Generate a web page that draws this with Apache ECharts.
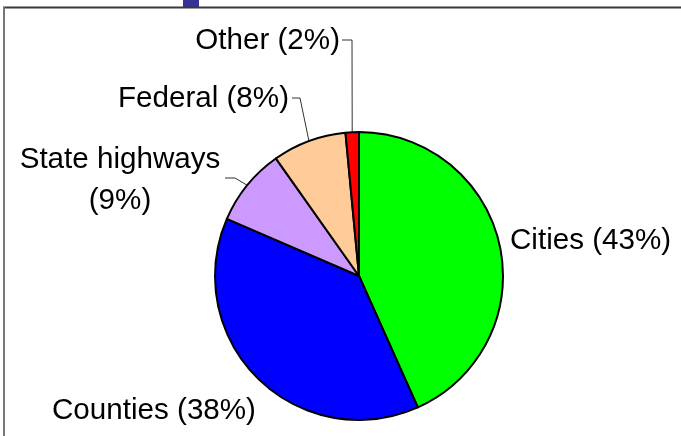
<!DOCTYPE html>
<html>
<head>
<meta charset="utf-8">
<script src="https://cdn.jsdelivr.net/npm/echarts@6/dist/echarts.min.js"></script>
<style>
html,body{margin:0;padding:0;background:#fff;}
#chart{width:681px;height:436px;}
</style>
</head>
<body>
<div id="chart"></div>
<script>
// Data
const categories = ['Cities', 'Counties', 'State highways', 'Federal', 'Other'];
const values = [43.3, 38.2, 8.7, 8.3, 1.5];
const pctLabels = ['43%', '38%', '9%', '8%', '2%'];
const labelTexts = ['Cities (43%)', 'Counties (38%)', 'State highways\n(9%)', 'Federal (8%)', 'Other (2%)'];

// Styles / layout
const colors = ['#00FF00', '#0000FF', '#CC99FF', '#FFCC99', '#FF0000'];
const labelLayouts = [
  { x: 510, y: 241, align: 'left', line: null },
  { x: 52, y: 411, align: 'left', line: null },
  { x: 120, y: 180, align: 'center', line: { end: [225, 178], elbow: [235, 178] } },
  { x: 289, y: 99, align: 'right', line: { end: [292, 98], elbow: [300, 98] } },
  { x: 340, y: 41, align: 'right', line: { end: [342, 40], elbow: [352, 40] } }
];

const chart = echarts.init(document.getElementById('chart'), null, { renderer: 'canvas' });

const data = categories.map((c, i) => ({
  name: c,
  value: values[i],
  itemStyle: { color: colors[i] },
  label: { formatter: labelTexts[i] },
  labelLine: { show: !!labelLayouts[i].line }
}));

chart.setOption({
  animation: false,
  backgroundColor: '#ffffff',
  graphic: [
    { type: 'rect', shape: { x: 183, y: 0, width: 16, height: 7 }, style: { fill: '#333399' }, z: 10 },
    { type: 'line', shape: { x1: 3, y1: 7.5, x2: 681, y2: 7.5 }, style: { stroke: '#3a3a3a', lineWidth: 2 }, z: 10 },
    { type: 'line', shape: { x1: 4, y1: 7, x2: 4, y2: 436 }, style: { stroke: '#777777', lineWidth: 2 }, z: 10 }
  ],
  series: [{
    type: 'pie',
    center: [359, 276],
    radius: 144,
    startAngle: 90,
    clockwise: true,
    data: data,
    itemStyle: { borderColor: '#000000', borderWidth: 2 },
    label: {
      show: true,
      position: 'outside',
      color: '#000000',
      fontFamily: 'Liberation Sans, Arial, sans-serif',
      fontSize: 29.6,
      lineHeight: 41,
      overflow: 'none',
      width: 400
    },
    labelLine: {
      show: true,
      length: 10,
      length2: 10,
      lineStyle: { color: '#333333', width: 1 }
    },
    emphasis: { disabled: true },
    labelLayout: function (params) {
      const L = labelLayouts[params.dataIndex];
      const out = { x: L.x, y: L.y, align: L.align, verticalAlign: 'middle' };
      if (L.line && params.labelLinePoints) {
        const p0 = params.labelLinePoints[0];
        out.labelLinePoints = [p0, L.line.elbow, L.line.end];
      }
      return out;
    }
  }]
});
</script>
</body>
</html>
